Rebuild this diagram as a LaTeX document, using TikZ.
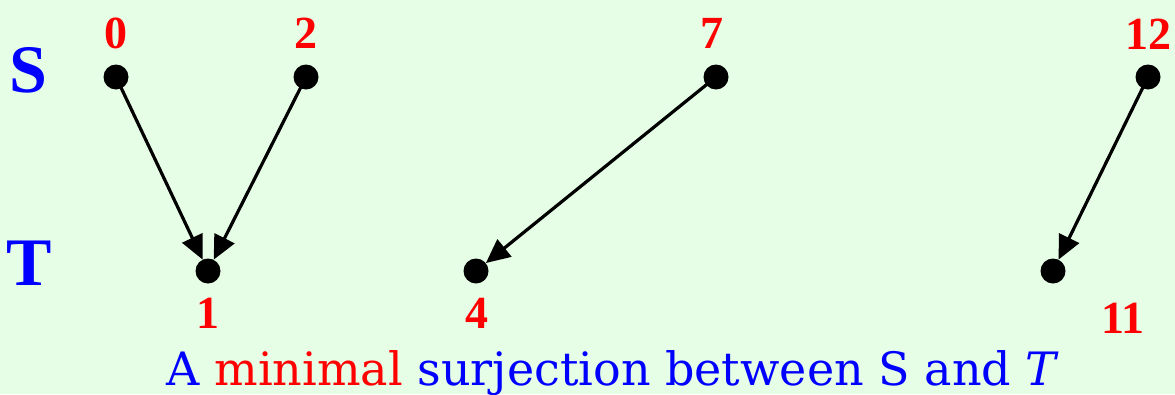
\documentclass[tikz,border=0pt]{standalone}
\usepackage{fontspec}
\setmainfont{Liberation Serif}
\newfontfamily\capfont{DejaVu Serif}
\usetikzlibrary{arrows.meta}
\definecolor{bgc}{RGB}{230,253,230}
\tikzset{
  dot/.style={circle,fill=black,inner sep=0pt,minimum size=25pt},
  num/.style={text=red,font=\fontsize{46}{46}\selectfont\bfseries,inner sep=0pt},
  setlab/.style={text=blue,font=\fontsize{68}{68}\selectfont\bfseries,inner sep=0pt},
  maparrow/.style={line width=3.2pt,-{Triangle[length=24pt,width=22pt]}},
}
\begin{document}
\begin{tikzpicture}[x=1pt,y=-1pt]
\fill[bgc] (0,0) rectangle (1175,394);
\useasboundingbox (0,0) rectangle (1175,394);
\node[setlab] (S) at (28,70) {S};
\node[setlab] (T) at (29,263) {T};
\node[dot] (s0) at (116,77) {};
\node[dot] (s2) at (306,77) {};
\node[dot] (s7) at (716,77) {};
\node[dot] (s12) at (1148,77) {};
\node[dot] (t1) at (208,271) {};
\node[dot] (t4) at (476,271) {};
\node[dot] (t11) at (1053,271) {};
\node[num] (l0) at (116,33) {0};
\node[num] (l2) at (306,33) {2};
\node[num] (l7) at (712,33) {7};
\node[num] (l12) at (1148,34) {12};
\node[num] (l1) at (208,313) {1};
\node[num] (l4) at (477,313) {4};
\node[num] (l11) at (1123,318) {11};
\draw[maparrow] (s0.center) -- (t1);
\draw[maparrow] (s2.center) -- (t1);
\draw[maparrow] (s7.center) -- (t4);
\draw[maparrow] (s12.center) -- (t11);
\node[anchor=base,inner sep=0pt,font=\capfont\fontsize{46}{46}\selectfont] (cap) at (613,385)
  {\textcolor{blue}{A} \textcolor{red}{minimal} \textcolor{blue}{surjection between S and \textit{T}}};
\end{tikzpicture}
\end{document}
